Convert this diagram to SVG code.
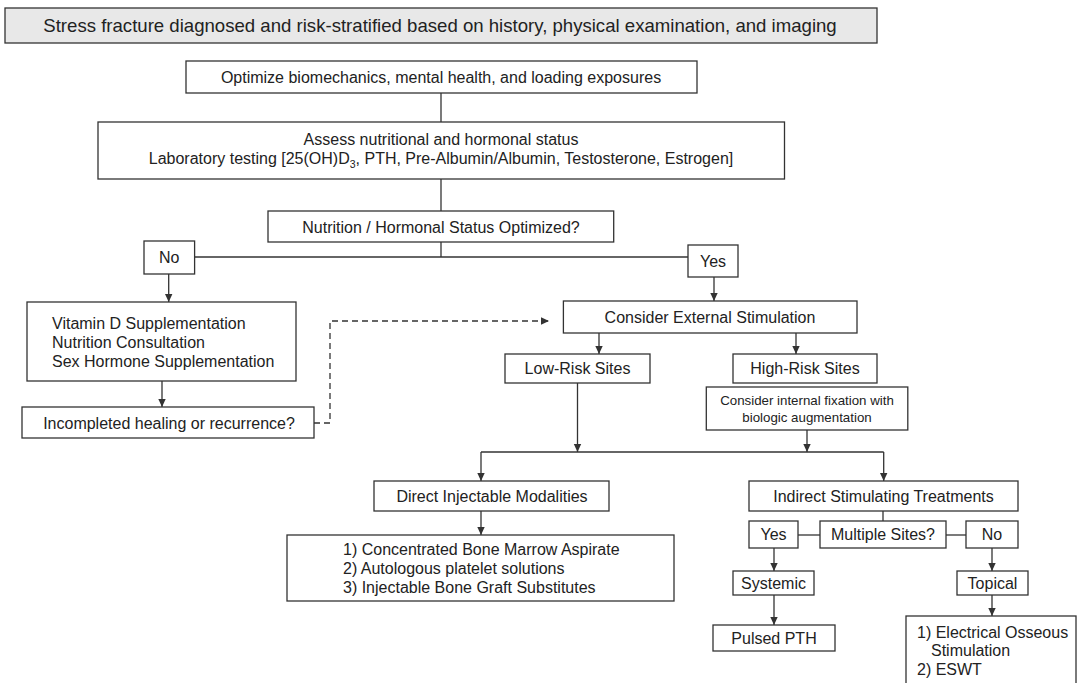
<svg xmlns="http://www.w3.org/2000/svg" width="1080" height="683" viewBox="0 0 1080 683">
<style>
  .box{fill:#fff;stroke:#333;stroke-width:1.3}
  .gray{fill:#e8e8e8;stroke:#333;stroke-width:1.3}
  text{font-family:"Liberation Sans",Arial,sans-serif;font-size:16px;fill:#222}
  .c{text-anchor:middle}
  .t{font-size:18.6px}
  .s{font-size:13.3px}
  .ln{fill:none;stroke:#333;stroke-width:1.3}
  .ar{marker-end:url(#ah)}
  .d{stroke-dasharray:6,4}
</style>
<defs>
  <marker id="ah" markerUnits="userSpaceOnUse" markerWidth="8" markerHeight="9" refX="8" refY="4.5" orient="auto">
    <path d="M0,0.8 L8,4.5 L0,8.2 z" fill="#333"/>
  </marker>
</defs>
<rect width="1080" height="683" fill="#fff"/>
<g id="connectors">
  <path class="ln" d="M441,93 V122"/>
  <path class="ln" d="M441,179 V211"/>
  <path class="ln" d="M441,242 V257"/>
  <path class="ln" d="M194.6,257 H688"/>
  <path class="ln ar" d="M168.7,274 V302"/>
  <path class="ln ar" d="M714,277 V301"/>
  <path class="ln ar" d="M162,381 V407"/>
  <path class="ln d ar" d="M314,423 H330 V321 H549"/>
  <path class="ln ar" d="M599,333 V354"/>
  <path class="ln ar" d="M796,333 V354"/>
  <path class="ln ar" d="M577.5,383 V452"/>
  <path class="ln ar" d="M807,430 V452"/>
  <path class="ln" d="M481,452 H883.7"/>
  <path class="ln ar" d="M481,452 V481"/>
  <path class="ln ar" d="M883.7,452 V481"/>
  <path class="ln ar" d="M481,511 V535"/>
  <path class="ln" d="M883,511 V521"/>
  <path class="ln" d="M798,535 H820"/>
  <path class="ln" d="M946,535 H966"/>
  <path class="ln ar" d="M774,548 V571"/>
  <path class="ln ar" d="M774,595 V625"/>
  <path class="ln ar" d="M992,548 V571"/>
  <path class="ln ar" d="M992,595 V616"/>
</g>
<g id="n_title">
  <rect class="gray" x="5" y="8" width="872" height="35"/>
  <text class="c t" x="440" y="32">Stress fracture diagnosed and risk-stratified based on history, physical examination, and imaging</text>
</g>
<g id="n_optimize">
  <rect class="box" x="186" y="61" width="511" height="32"/>
  <text class="c" x="441" y="82.6">Optimize biomechanics, mental health, and loading exposures</text>
</g>
<g id="n_assess">
  <rect class="box" x="98" y="122" width="686.5" height="57"/>
  <text class="c" x="441" y="144.6">Assess nutritional and hormonal status</text>
  <text class="c" x="441" y="164">Laboratory testing [25(OH)D<tspan font-size="10.5" dy="4">3</tspan><tspan dy="-4">, PTH, Pre-Albumin/Albumin, Testosterone, Estrogen]</tspan></text>
</g>
<g id="n_status">
  <rect class="box" x="268" y="211" width="345.7" height="31"/>
  <text class="c" x="441" y="232.6">Nutrition / Hormonal Status Optimized?</text>
</g>
<g id="n_no1">
  <rect class="box" x="144" y="241" width="50.6" height="33"/>
  <text class="c" x="169.3" y="263">No</text>
</g>
<g id="n_yes1">
  <rect class="box" x="688" y="245" width="50" height="32"/>
  <text class="c" x="713" y="266.6">Yes</text>
</g>
<g id="n_vitd">
  <rect class="box" x="27" y="302" width="269" height="79"/>
  <text x="52" y="328.6">Vitamin D Supplementation</text>
  <text x="52" y="347.6">Nutrition Consultation</text>
  <text x="52" y="366.6">Sex Hormone Supplementation</text>
</g>
<g id="n_incomplete">
  <rect class="box" x="22" y="407" width="292" height="31"/>
  <text class="c" x="169" y="428.6">Incompleted healing or recurrence?</text>
</g>
<g id="n_external">
  <rect class="box" x="563.4" y="301" width="293.6" height="32"/>
  <text class="c" x="710" y="322.6">Consider External Stimulation</text>
</g>
<g id="n_low">
  <rect class="box" x="505" y="354" width="145" height="29"/>
  <text class="c" x="577.5" y="374.1">Low-Risk Sites</text>
</g>
<g id="n_high">
  <rect class="box" x="733" y="354" width="144" height="29"/>
  <text class="c" x="805" y="374.1">High-Risk Sites</text>
</g>
<g id="n_fixation">
  <rect class="box" x="706.3" y="387" width="201.5" height="43"/>
  <text class="c s" x="807" y="404.6">Consider internal fixation with</text>
  <text class="c s" x="807" y="421.6">biologic augmentation</text>
</g>
<g id="n_direct">
  <rect class="box" x="374" y="481" width="235" height="30"/>
  <text class="c" x="492" y="501.6">Direct Injectable Modalities</text>
</g>
<g id="n_direct_list">
  <rect class="box" x="287" y="535" width="387" height="66"/>
  <text x="343" y="554.6">1) Concentrated Bone Marrow Aspirate</text>
  <text x="343" y="573.6">2) Autologous platelet solutions</text>
  <text x="343" y="592.6">3) Injectable Bone Graft Substitutes</text>
</g>
<g id="n_indirect">
  <rect class="box" x="749" y="481" width="269" height="30"/>
  <text class="c" x="883.5" y="501.6">Indirect Stimulating Treatments</text>
</g>
<g id="n_multiple">
  <rect class="box" x="820" y="521" width="126" height="27"/>
  <text class="c" x="883" y="540.1">Multiple Sites?</text>
</g>
<g id="n_yes2">
  <rect class="box" x="749" y="521" width="49" height="27"/>
  <text class="c" x="773.5" y="540.1">Yes</text>
</g>
<g id="n_no2">
  <rect class="box" x="966" y="521" width="52" height="27"/>
  <text class="c" x="992" y="540.1">No</text>
</g>
<g id="n_systemic">
  <rect class="box" x="733" y="571" width="81" height="24"/>
  <text class="c" x="773.5" y="588.6">Systemic</text>
</g>
<g id="n_pth">
  <rect class="box" x="713" y="625" width="122" height="26"/>
  <text class="c" x="774" y="643.6">Pulsed PTH</text>
</g>
<g id="n_topical">
  <rect class="box" x="957" y="571" width="71" height="24"/>
  <text class="c" x="992.5" y="588.6">Topical</text>
</g>
<g id="n_topical_list">
  <rect class="box" x="906" y="616" width="170" height="80"/>
  <text x="917" y="637.6">1) Electrical Osseous</text>
  <text x="931" y="655.6">Stimulation</text>
  <text x="917" y="674.6">2) ESWT</text>
</g>
</svg>
